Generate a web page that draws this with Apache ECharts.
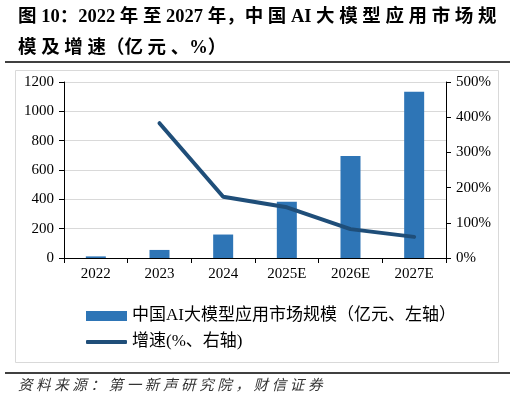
<!DOCTYPE html>
<html><head><meta charset="utf-8">
<script src="https://cdn.jsdelivr.net/npm/echarts@6/dist/echarts.min.js"></script>
<style>html,body{margin:0;padding:0;background:#fff}#c{width:516px;height:403px}</style>
</head><body><div id="c"></div>
<script>
const categories = ['2022','2023','2024','2025E','2026E','2027E'];
const marketSize = [11, 55, 160, 383, 696, 1133];
const growth = [null, 383, 174, 144, 82, 60];
const leftTicks = [0, 200, 400, 600, 800, 1000, 1200];
const rightTicks = [0, 100, 200, 300, 400, 500];
const barName = '中国AI大模型应用市场规模（亿元、左轴）';
const lineName = '增速(%、右轴)';

const serif = '"Liberation Serif","Times New Roman","Noto Sans CJK SC",serif';
function spaced(s){return s.split('').join(' ');}

const chart = echarts.init(document.getElementById('c'), null, {renderer:'canvas'});
chart.setOption({
  animation:false,
  backgroundColor:'#fff',
  grid:{left:64,right:70,top:82,bottom:145,containLabel:false},
  legend:[{
    orient:'vertical', left:86, top:306, padding:0, itemWidth:41, itemHeight:10, itemGap:4,
    textStyle:{fontFamily:serif,fontSize:17,color:'#000',lineHeight:20},
    data:[{name:barName,icon:'rect'}]
  },{
    orient:'vertical', left:86, top:332, padding:0, itemWidth:41, itemHeight:4,
    textStyle:{fontFamily:serif,fontSize:17,color:'#000',lineHeight:20},
    data:[{name:lineName,icon:'roundRect'}]
  }],
  xAxis:{
    type:'category', data:categories, boundaryGap:true,
    axisLine:{lineStyle:{color:'#000',width:1}},
    axisTick:{show:true,inside:false,length:5,lineStyle:{color:'#000'}},
    axisLabel:{fontFamily:serif,fontSize:15,color:'#000',margin:9}
  },
  yAxis:[{
    type:'value', min:leftTicks[0], max:leftTicks[leftTicks.length-1], interval:leftTicks[1]-leftTicks[0],
    axisLine:{show:true,lineStyle:{color:'#000'}},
    axisTick:{show:true,length:5,lineStyle:{color:'#000'}},
    axisLabel:{fontFamily:serif,fontSize:15,color:'#000',margin:10,formatter:v=>String(v)},
    splitLine:{show:true,lineStyle:{color:'#d9d9d9',width:1}}
  },{
    type:'value', min:rightTicks[0], max:rightTicks[rightTicks.length-1], interval:rightTicks[1]-rightTicks[0], position:'right',
    axisLine:{show:true,lineStyle:{color:'#000'}},
    axisTick:{show:true,length:5,lineStyle:{color:'#000'}},
    axisLabel:{fontFamily:serif,fontSize:15,color:'#000',margin:10,formatter:v=>v+'%'},
    splitLine:{show:false}
  }],
  series:[{
    name:barName, type:'bar', data:marketSize, yAxisIndex:0, barWidth:20,
    itemStyle:{color:'#2e75b6'}
  },{
    name:lineName, type:'line', data:growth, yAxisIndex:1, symbol:'none',
    connectNulls:false,
    lineStyle:{color:'#1f4e79',width:4,cap:'round'}, itemStyle:{color:'#1f4e79'}
  }],
  graphic:[
    {type:'text',left:18,top:8,style:{text:'图 10：2022 '+spaced('年至')+' 2027 年，'+spaced('中国')+' AI '+spaced('大模型应用市场规'),font:'bold 18.5px '+serif,fill:'#000'}},
    {type:'text',left:18,top:39,style:{text:'模 及 增 速（亿 元 、%）',font:'bold 18.5px '+serif,fill:'#000'}},
    {type:'line',shape:{x1:5,y1:62,x2:510,y2:62},style:{stroke:'#000',lineWidth:1.5}},
    {type:'rect',shape:{x:15.5,y:70.5,width:483,height:292},style:{fill:'none',stroke:'#d9d9d9',lineWidth:1},z:-1},
    {type:'line',shape:{x1:5,y1:373,x2:510,y2:373},style:{stroke:'#000',lineWidth:1.5}},
    {type:'text',left:18,top:379,style:{text:spaced('资料来源：第一新声研究院，财信证券'),font:'italic 14.5px '+serif,fill:'#333'}}
  ]
});
</script></body></html>
